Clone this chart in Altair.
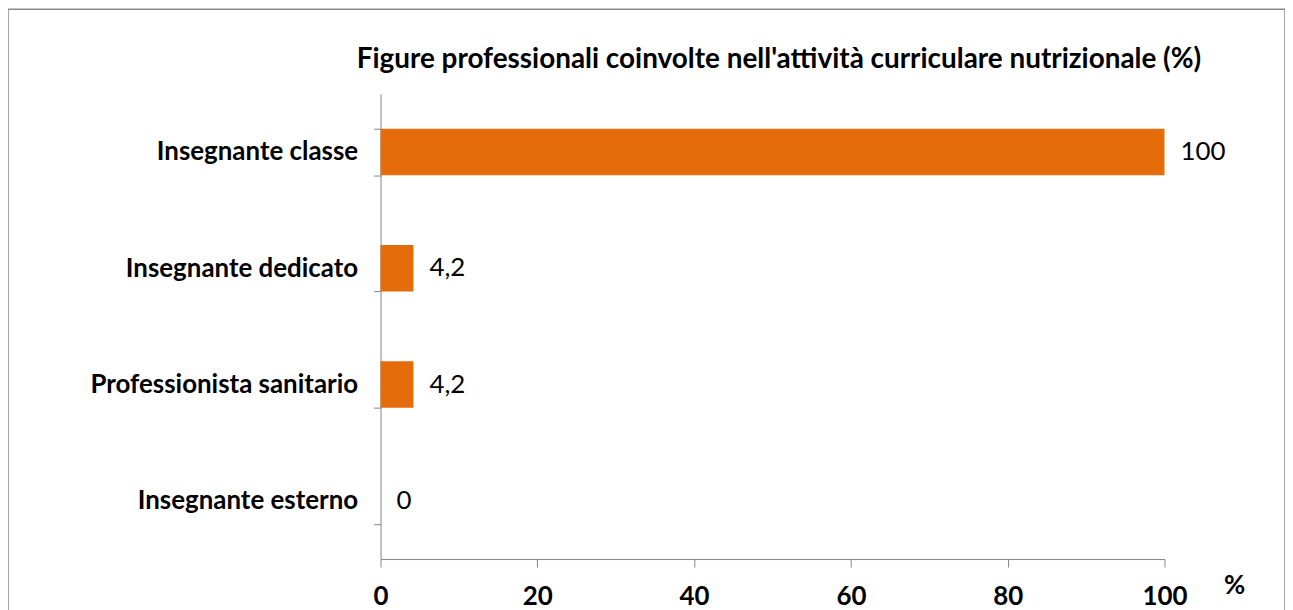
import altair as alt
import pandas as pd

# ---- data ----
categories = ["Insegnante classe", "Insegnante dedicato", "Professionista sanitario", "Insegnante esterno"]
values = [100, 4.2, 4.2, 0]
x_ticks = [0, 20, 40, 60, 80, 100]
title_text = "Figure professionali coinvolte nell'attività curriculare nutrizionale (%)"

df = pd.DataFrame({"categoria": categories, "valore": values})

FONT = "Lato"
FS = 26
GREY = "#868686"
W, H = 1282, 612
X_RANGE = [374, 1161]
Y_RANGE = [85, 552]

x_enc = alt.X(
    "valore:Q",
    scale=alt.Scale(domain=[0, 100], range=X_RANGE, nice=False, zero=True),
    axis=alt.Axis(
        values=x_ticks, orient="bottom", offset=-(H - Y_RANGE[1]), grid=False,
        tickSize=8, tickColor=GREY, domainColor=GREY, labelFlush=False,
        labelFont=FONT, labelFontSize=FS, labelFontWeight="bold", labelColor="black",
        labelPadding=17,
        title="%", titleFont=FONT, titleFontSize=FS, titleFontWeight="bold", titleColor="black",
        titleX=1231, titleY=27, titleAlign="center", titleBaseline="middle", titleAngle=0,
    ),
)
y_enc = alt.Y(
    "categoria:N", sort=categories,
    scale=alt.Scale(range=Y_RANGE, paddingInner=0.6, paddingOuter=0.3),
    axis=alt.Axis(
        title=None, orient="left", offset=-X_RANGE[0], tickBand="extent", grid=False,
        tickSize=7, tickColor=GREY, domainColor=GREY,
        labelFont=FONT, labelFontSize=FS, labelFontWeight="bold", labelColor="black",
        labelPadding=16, labelLimit=500,
    ),
)

bars = alt.Chart(df).mark_bar(color="#E46C0A").encode(x=x_enc, y=y_enc)
labels = (
    alt.Chart(df)
    .transform_calculate(lab="replace(toString(datum.valore), '.', ',')")
    .mark_text(align="left", baseline="middle", dx=16, font=FONT, fontSize=FS, color="black")
    .encode(x=x_enc, y=y_enc, text="lab:N")
)

chart = (
    alt.layer(bars, labels)
    .properties(
        width=W, height=H,
        autosize=alt.AutoSizeParams(type="none"),
        padding=0,
        title=alt.TitleParams(
            text=title_text, font=FONT, fontSize=28, fontWeight="bold", color="black",
            anchor="middle", frame="group", offset=-39, dx=133, dy=61, baseline="alphabetic",
        ),
    )
    .configure_view(stroke="#8a8a8a", strokeWidth=1.5)
)

chart.save("out.html", embed_options={"renderer": "svg", "actions": False})
